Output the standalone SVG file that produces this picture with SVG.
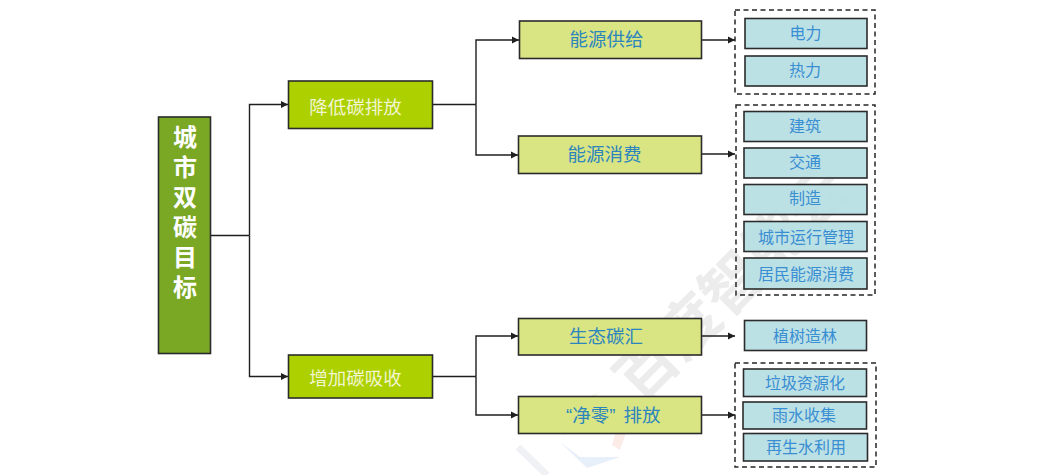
<svg xmlns="http://www.w3.org/2000/svg" width="1047" height="475" viewBox="0 0 1047 475">
  <style>
    text { font-family: "Noto Sans CJK SC", "Liberation Sans", sans-serif; text-anchor: middle; }
    .box { stroke: #2b2b2b; stroke-width: 1.6; }
    .root { fill: #7aa825; }
    .l1 { fill: #add000; }
    .l2 { fill: #d9e483; }
    .l3 { fill: #b7dfe3; fill-opacity: 0.93; }
    .group { fill: none; stroke: #262626; stroke-width: 1.5; stroke-dasharray: 5 3.5; }
    .t1 { fill: #f1f5d0; font-size: 18.500px; }
    .t2 { fill: #2c86bd; font-size: 18.500px; }
    .t3 { fill: #3a8ed2; font-size: 16px; }
    .t0 { fill: #ffffff; font-size: 24px; font-weight: 700; writing-mode: vertical-rl; letter-spacing: 6px; text-anchor: start; }
    .wire { fill: none; stroke: #1f1f1f; stroke-width: 1.4; }
    .arrow { marker-end: url(#tip); }
    .wm { font-size: 60px; font-weight: 700; fill: #ececec; }
    .quote { font-family: "Liberation Sans", sans-serif; }
  </style>
  <defs>
    <marker id="tip" markerUnits="userSpaceOnUse" markerWidth="8" markerHeight="8" refX="7" refY="4" orient="auto">
      <path d="M0 0.500L7 4L0 7.500Z" fill="#1f1f1f"/>
    </marker>
  </defs>
  <rect width="1047" height="475" fill="#ffffff"/>

  <!-- faint brand mark under the chart -->
  <g id="mark">
    <text class="wm" transform="translate(732 284) rotate(-45)" x="0" y="21">百度智能云</text>
    <path d="M518 447L547 475" fill="none" stroke="#dfe3ea" stroke-opacity="0.5" stroke-width="7"/>
    <path d="M560 442L580 457H620L587 468Z" fill="#cfe0f7" fill-opacity="0.5"/>
    <path d="M607 397L628 427L620 450L612 445L618 425L600 405Z" fill="#f6cfc4" fill-opacity="0.4"/>
    <path d="M557 433L572 403L600 392L578 412L565 435Z" fill="#dcecc4" fill-opacity="0.4"/>
  </g>

  <!-- connectors -->
  <g id="connectors">
    <path class="wire" d="M211 235.500H249.500"/>
    <path class="wire arrow" d="M249.500 235.500V104.500H288"/>
    <path class="wire arrow" d="M249.500 235.500V376.500H288"/>
    <path class="wire" d="M433 104.500H476"/>
    <path class="wire arrow" d="M476 104.500V40H519"/>
    <path class="wire arrow" d="M476 104.500V155H518"/>
    <path class="wire" d="M433 376.500H476"/>
    <path class="wire arrow" d="M476 376.500V336H518"/>
    <path class="wire arrow" d="M476 376.500V415H518"/>
    <path class="wire arrow" d="M702 40H735"/>
    <path class="wire arrow" d="M702 154H735"/>
    <path class="wire arrow" d="M702 336H735"/>
    <path class="wire arrow" d="M702 415H735"/>
  </g>

  <g id="root"><rect class="box root" x="158.500" y="117" width="52" height="236.500"/>
    <text class="t0" x="185" y="125">城市双碳目标</text></g>

  <g id="n-reduce"><rect class="box l1" x="288.500" y="81" width="144" height="47.500"/><text class="t1" x="355.500" y="114">降低碳排放</text></g>
  <g id="n-increase"><rect class="box l1" x="288.500" y="355" width="144" height="43"/><text class="t1" x="355.500" y="385">增加碳吸收</text></g>

  <g id="n-supply"><rect class="box l2" x="519.500" y="21" width="182" height="37.500"/><text class="t2" x="606.500" y="46">能源供给</text></g>
  <g id="n-consume"><rect class="box l2" x="518.500" y="136" width="183" height="37.500"/><text class="t2" x="604.500" y="161">能源消费</text></g>
  <g id="n-sink"><rect class="box l2" x="518.500" y="318.500" width="183" height="36.500"/><text class="t2" x="606" y="343">生态碳汇</text></g>
  <g id="n-netzero"><rect class="box l2" x="518.500" y="396.500" width="183" height="37"/><text class="t2" x="566" y="422" style="text-anchor:start"><tspan class="quote">“</tspan>净零<tspan class="quote">”</tspan><tspan x="623.500">排放</tspan></text></g>

  <g id="group-supply"><rect class="group" x="735" y="10" width="140" height="84"/>
    <rect class="box l3" x="745" y="18.500" width="122" height="30"/><text class="t3" x="805.500" y="39">电力</text>
    <rect class="box l3" x="745" y="56" width="122" height="30"/><text class="t3" x="805" y="76">热力</text></g>

  <g id="group-consume"><rect class="group" x="736" y="105" width="139" height="190"/>
    <rect class="box l3" x="744" y="111.500" width="123" height="30"/><text class="t3" x="805" y="132">建筑</text>
    <rect class="box l3" x="744" y="148" width="123" height="30"/><text class="t3" x="805" y="168">交通</text>
    <rect class="box l3" x="744" y="184.500" width="123" height="30"/><text class="t3" x="805" y="204">制造</text>
    <rect class="box l3" x="744" y="221.500" width="123" height="30"/><text class="t3" x="806" y="243">城市运行管理</text>
    <rect class="box l3" x="744" y="258" width="123" height="31"/><text class="t3" x="806" y="280">居民能源消费</text></g>

  <g id="n-forest"><rect class="box l3" x="744.500" y="320.500" width="122" height="30"/><text class="t3" x="805" y="342">植树造林</text></g>

  <g id="group-netzero"><rect class="group" x="735" y="363" width="141" height="104"/>
    <rect class="box l3" x="743.500" y="369" width="123" height="27.500"/><text class="t3" x="805" y="389">垃圾资源化</text>
    <rect class="box l3" x="743" y="402" width="123.500" height="27"/><text class="t3" x="804" y="421">雨水收集</text>
    <rect class="box l3" x="743.500" y="433.500" width="124" height="27.500"/><text class="t3" x="806" y="453">再生水利用</text></g>
</svg>
